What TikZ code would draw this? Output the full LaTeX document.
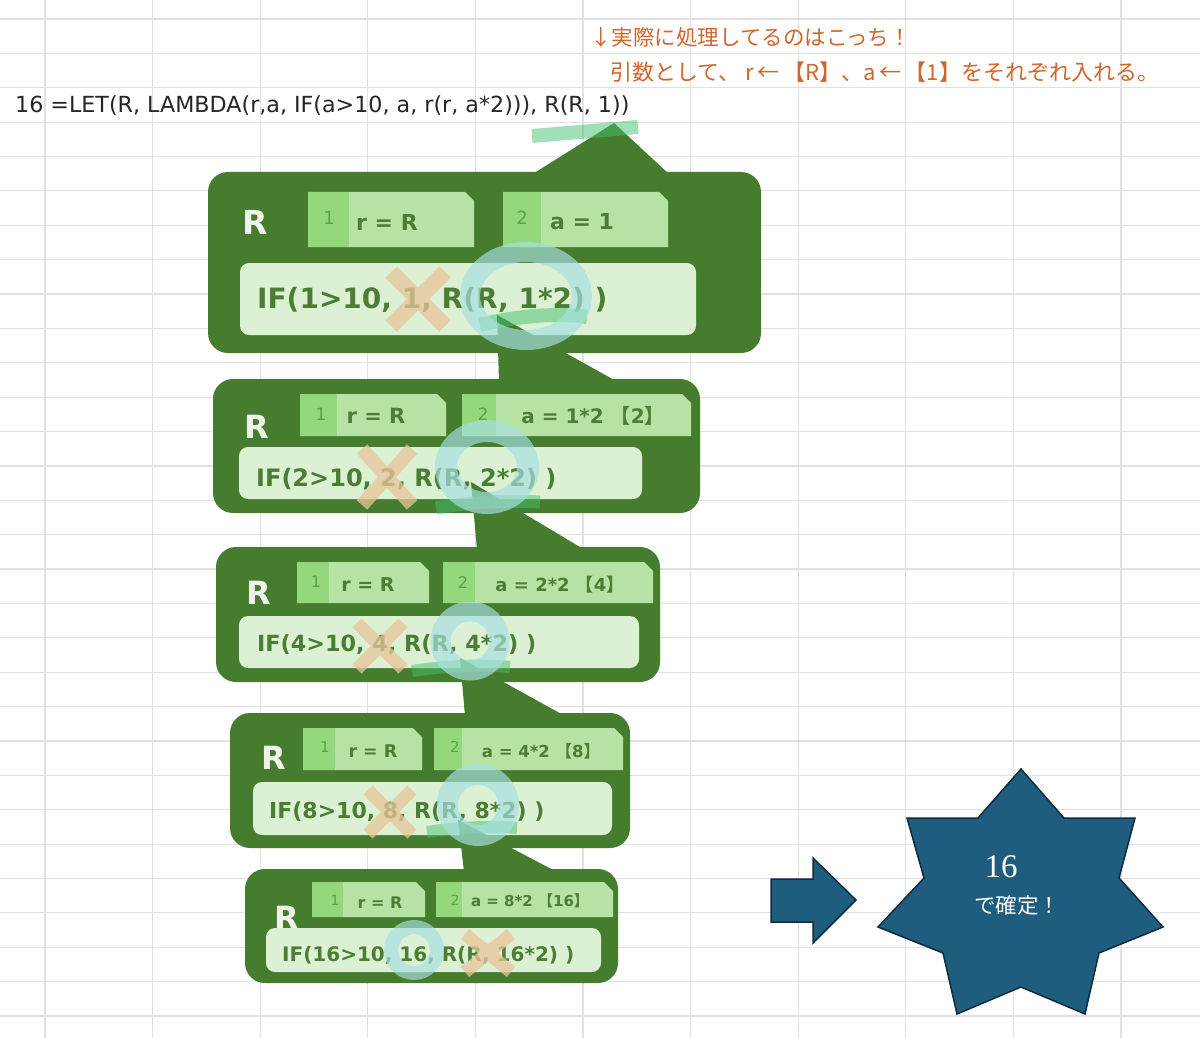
\documentclass[tikz,border=0pt]{standalone}
\usepackage{fontspec}
\setmainfont{DejaVu Sans}
\newfontfamily\jp{Noto Sans CJK JP}
\newfontfamily\numfont{Liberation Serif}
\usepackage{tikz}

\definecolor{gridgray}{HTML}{E1E1E1}
\definecolor{boxgreen}{HTML}{467C2D}
\definecolor{formfill}{HTML}{DCF1D4}
\definecolor{tagfill}{HTML}{B6E3A3}
\definecolor{tagnumfill}{HTML}{94D77C}
\definecolor{numgreen}{HTML}{5AA445}
\definecolor{textgreen}{HTML}{4B7D35}
\definecolor{Rwhite}{HTML}{EEF4EA}
\definecolor{ringblue}{HTML}{A6DFE0}
\definecolor{crossbeige}{HTML}{E9C49A}
\definecolor{hlgreen}{HTML}{45C06E}
\definecolor{memoorange}{HTML}{D2652A}
\definecolor{starblue}{HTML}{1F5D7E}
\definecolor{stardark}{HTML}{0E2C3C}

\begin{document}
\begin{tikzpicture}[x=1pt,y=-1pt]
        \tikzstyle{every node} = [inner sep=0pt]
        \tikzstyle{gridline} = [draw=gridgray, line width=1.2pt]
        \tikzstyle{callout} = [fill=boxgreen, rounded corners=20pt]
        \tikzstyle{formbox} = [fill=formfill, rounded corners=9pt]
        \tikzstyle{tagbox} = [fill=tagfill]
        \tikzstyle{tagnum} = [fill=tagnumfill]
        \tikzstyle{bigR} = [text=Rwhite]
        \tikzstyle{numlabel} = [text=numgreen]
        \tikzstyle{argtext} = [text=textgreen]
        \tikzstyle{iftext} = [text=textgreen, anchor=west]
        \tikzstyle{okring} = [draw=ringblue, opacity=0.68]
        \tikzstyle{ngmark} = [draw=crossbeige, opacity=0.75]
        \tikzstyle{hilite} = [draw=hlgreen, opacity=0.5]
        \tikzstyle{memo} = [text=memoorange, anchor=west]
        \tikzstyle{bluefill} = [fill=starblue, draw=stardark, line width=1.5pt, line join=miter]

        \useasboundingbox (0,0) rectangle (1200,1038);
        \fill[white] (0,0) rectangle (1200,1038);

        % sheet grid
        \foreach \i in {0,...,10}
            \draw[gridline] ({45+107.6*\i},0) -- ({45+107.6*\i},1038);
        \foreach \j in {0,...,29}
            \draw[gridline] (0,{19+34.38*\j}) -- (1200,{19+34.38*\j});

        % notes and formula
        \node[memo, font=\jp\fontsize{21.5}{21.5}\selectfont] (memo1) at (590,37) {↓実際に処理してるのはこっち！};
        \node[memo, font=\jp\fontsize{22}{22}\selectfont] (memo2) at (610,72)
            {引数として、 r\,←\,【R】、a\,←\,【1】をそれぞれ入れる。};
        \node[anchor=west, text=black!85, font=\fontsize{22.2}{22.2}\selectfont] (formula) at (15,106)
            {16 =LET(R, LAMBDA(r,a, IF(a>10, a, r(r, a*2))), R(R, 1))};

        % call boxes
        \fill[callout] (208,172) rectangle (761,353);
        \fill[boxgreen] (531,175) -- (614,123) -- (670,175) -- cycle;
        \fill[formbox] (240,263) rectangle (696,335);

        \fill[callout] (213,379) rectangle (700,513);
        \fill[boxgreen] (497,315) -- (499,382) -- (618,382) -- cycle;
        \fill[formbox] (239,447) rectangle (642,499);

        \fill[callout] (216,547) rectangle (660,682);
        \fill[boxgreen] (471,482) -- (477,550) -- (585,550) -- cycle;
        \fill[formbox] (239,616) rectangle (639,668);

        \fill[callout] (230,713) rectangle (630,848);
        \fill[boxgreen] (460,658) -- (465,716) -- (565,716) -- cycle;
        \fill[formbox] (253,782) rectangle (612,835);

        \fill[callout] (245,869) rectangle (618,983);
        \fill[boxgreen] (458,820) -- (464,872) -- (557,872) -- cycle;

        % argument tags
        \foreach \xa/\ya/\xb/\yb/\xs in {308/192/474/247/349, 503/192/668/247/541,
                300/394/446/436/337, 462/394/691/436/496, 297/562/429/603/329, 443/562/653/603/475,
                303/728/422/770/335, 434/728/623/770/462, 312/882/425/917/343, 436/882/613/917/462}
        {
            \fill[tagbox] (\xa,\ya) -- ({\xb-9},\ya) -- (\xb,{\ya+9}) -- (\xb,\yb) -- (\xa,\yb) -- cycle;
            \fill[tagnum] (\xa,\ya) rectangle (\xs,\yb);
        }

        \node[bigR, font=\bfseries\fontsize{33}{33}\selectfont] (R1) at (255,222) {R};
        \node[bigR, font=\bfseries\fontsize{32}{32}\selectfont] (R2) at (257,427) {R};
        \node[bigR, font=\bfseries\fontsize{32}{32}\selectfont] (R3) at (259,593) {R};
        \node[bigR, font=\bfseries\fontsize{32}{32}\selectfont] (R4) at (274,758) {R};
        \node[bigR, font=\bfseries\fontsize{32}{32}\selectfont] (R5) at (287,918) {R};
        \fill[formbox] (266,928) rectangle (601,972);

        \node[numlabel, font=\fontsize{18}{18}\selectfont] (n1a) at (329,218) {1};
        \node[numlabel, font=\fontsize{18}{18}\selectfont] (n1b) at (522,218) {2};
        \node[numlabel, font=\fontsize{17}{17}\selectfont] (n2a) at (321,414) {1};
        \node[numlabel, font=\fontsize{17}{17}\selectfont] (n2b) at (483,414) {2};
        \node[numlabel, font=\fontsize{16}{16}\selectfont] (n3a) at (316,582) {1};
        \node[numlabel, font=\fontsize{16}{16}\selectfont] (n3b) at (463,583) {2};
        \node[numlabel, font=\fontsize{15}{15}\selectfont] (n4a) at (325,747) {1};
        \node[numlabel, font=\fontsize{15}{15}\selectfont] (n4b) at (455,747) {2};
        \node[numlabel, font=\fontsize{14}{14}\selectfont] (n5a) at (335,900) {1};
        \node[numlabel, font=\fontsize{14}{14}\selectfont] (n5b) at (455,900) {2};

        \node[argtext, font=\bfseries\fontsize{22}{22}\selectfont] (a1a) at (387,222) {r = R};
        \node[argtext, font=\bfseries\fontsize{22}{22}\selectfont] (a1b) at (582,222) {a = 1};
        \node[argtext, font=\bfseries\fontsize{21}{21}\selectfont] (a2a) at (376,416) {r = R};
        \node[argtext, font=\bfseries\fontsize{20}{20}\selectfont] (a2b) at (593,416) {a = 1*2 {\jp【}2{\jp】}};
        \node[argtext, font=\bfseries\fontsize{19}{19}\selectfont] (a3a) at (368,585) {r = R};
        \node[argtext, font=\bfseries\fontsize{18}{18}\selectfont] (a3b) at (560,585) {a = 2*2 {\jp【}4{\jp】}};
        \node[argtext, font=\bfseries\fontsize{17.5}{17.5}\selectfont] (a4a) at (373,751) {r = R};
        \node[argtext, font=\bfseries\fontsize{16.5}{16.5}\selectfont] (a4b) at (541,751) {a = 4*2 {\jp【}8{\jp】}};
        \node[argtext, font=\bfseries\fontsize{16}{16}\selectfont] (a5a) at (380,903) {r = R};
        \node[argtext, font=\bfseries\fontsize{15}{15}\selectfont] (a5b) at (530,901) {a = 8*2 {\jp【}16{\jp】}};

        \node[iftext, font=\bfseries\fontsize{28}{28}\selectfont] (if1) at (257,300) {IF(1>10, 1, R(R, 1*2) )};
        \node[iftext, font=\bfseries\fontsize{24}{24}\selectfont] (if2) at (256,479) {IF(2>10, 2, R(R, 2*2) )};
        \node[iftext, font=\bfseries\fontsize{22.3}{22.3}\selectfont] (if3) at (257,645) {IF(4>10, 4, R(R, 4*2) )};
        \node[iftext, font=\bfseries\fontsize{22}{22}\selectfont] (if4) at (269,812) {IF(8>10, 8, R(R, 8*2) )};
        \node[iftext, font=\bfseries\fontsize{20}{20}\selectfont] (if5) at (282,955) {IF(16>10, 16, R(R, 16*2) )};

        % marks
        \draw[hilite, line width=14pt] (532,136) -- (638,127);
        \draw[hilite, line width=14pt] (480,325) .. controls (520,315) and (560,313) .. (587,317);
        \draw[hilite, line width=13pt] (436,508) .. controls (470,502) and (510,500) .. (540,502);
        \draw[hilite, line width=12pt] (412,671) .. controls (445,666) and (480,664) .. (510,667);
        \draw[hilite, line width=12pt] (427,832) .. controls (460,827) and (490,826) .. (517,828);

        \draw[ngmark, line width=16pt] (391,272) -- (445,326) (445,272) -- (391,326);
        \draw[ngmark, line width=14pt] (362,449) -- (412,505) (412,449) -- (362,505);
        \draw[ngmark, line width=13pt] (357,623) -- (403,669) (403,623) -- (357,669);
        \draw[ngmark, line width=13pt] (368,790) -- (412,834) (412,790) -- (368,834);
        \draw[ngmark, line width=13pt] (465,934) -- (511,972) (511,934) -- (465,972);

        \draw[okring, line width=20pt] (526,296) ellipse (56 and 44);
        \draw[okring, line width=22pt] (487,467) ellipse (41 and 36);
        \draw[okring, line width=20pt] (470,641) circle (29.5);
        \draw[okring, line width=21pt] (478,805) circle (30.5);
        \draw[okring, line width=14pt] (414,950) circle (23);

        % result
        \draw[bluefill] (771,879) -- (813,879) -- (813,858) -- (856,900) -- (813,943) -- (813,922) -- (771,922) -- cycle;
        \draw[bluefill] (1021,769) -- (1064,818) -- (1135,818) -- (1119,878) -- (1163,927) -- (1099,953)
                        -- (1085,1014) -- (1021,987) -- (957,1014) -- (943,953) -- (878,927) -- (924,878)
                        -- (907,818) -- (978,818) -- cycle;
        \node[text=white, font=\numfont\fontsize{33}{33}\selectfont] (res16) at (1001,867) {16};
        \node[text=white, font=\jp\fontsize{21.5}{21.5}\selectfont] (resjp) at (1017,905) {で確定！};
\end{tikzpicture}
\end{document}
